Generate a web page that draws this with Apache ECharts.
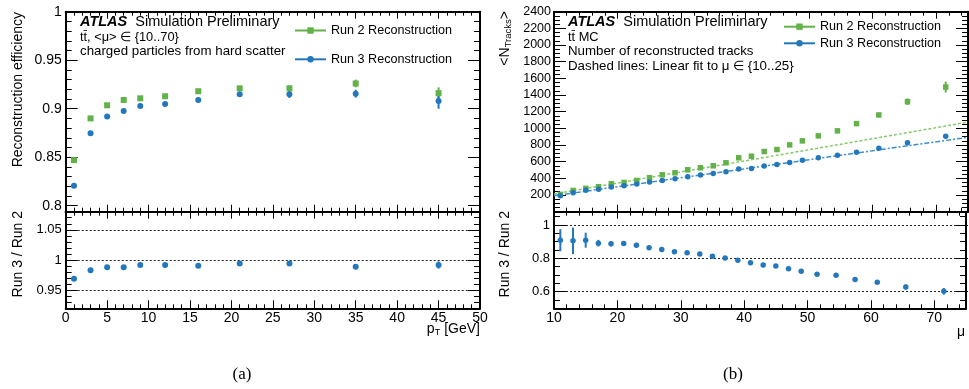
<!DOCTYPE html>
<html>
<head>
<meta charset="utf-8">
<script src="https://cdn.jsdelivr.net/npm/echarts@6/dist/echarts.min.js"></script>
<style>
    html, body { margin: 0; padding: 0; background: #fff; }
    #chart { width: 969px; height: 389px; }
</style>
</head>
<body>
<div id="chart"></div>
<script>
/**
 * Run 2 vs Run 3 track reconstruction (ATLAS simulation)
 */

// (a) efficiency vs pT
var ptBins = [1, 3, 5, 7, 9, 12, 16, 21, 27, 35, 45];
var effRun2 = [0.847, 0.890, 0.9035, 0.909, 0.9107, 0.9128, 0.918, 0.921, 0.921, 0.926, 0.916];
var effRun2Err = [0.001, 0.001, 0.001, 0.001, 0.001, 0.001, 0.0015, 0.002, 0.003, 0.004, 0.006];
var effRun3 = [0.8206, 0.8746, 0.892, 0.8976, 0.9028, 0.9048, 0.909, 0.915, 0.915, 0.9155, 0.908];
var effRun3Err = [0.001, 0.001, 0.001, 0.001, 0.001, 0.001, 0.0015, 0.002, 0.004, 0.004, 0.008];
var effRatio = [0.969, 0.983, 0.988, 0.988, 0.9917, 0.9917, 0.9906, 0.9944, 0.9944, 0.989, 0.9917];
var effRatioErr = [0.001, 0.001, 0.001, 0.001, 0.001, 0.001, 0.001, 0.0015, 0.003, 0.004, 0.006];

// (b) number of tracks vs mu
var muBins = [11, 13, 15, 17, 19, 21, 23, 25, 27, 29, 31, 33, 35, 37, 39, 41, 43, 45, 47, 49, 51.5, 54.5, 57.5, 61, 65.5, 71.5];
var nTrkRun2 = [208, 255, 280, 300, 336, 351, 375, 408, 443, 467, 503, 527, 551, 587, 647, 666, 722, 746, 802, 850, 910, 970, 1057, 1161, 1320, 1496];
var nTrkRun2Err = [4, 4, 4, 4, 4, 4, 4, 4, 4, 4, 5, 5, 5, 5, 6, 6, 7, 7, 8, 8, 9, 10, 12, 16, 40, 65];
var nTrkRun3 = [192, 228, 256, 268, 296, 312, 331, 355, 375, 395, 419, 439, 459, 479, 511, 519, 547, 567, 591, 618, 647, 678, 714, 762, 826, 905];
var nTrkRun3Err = [4, 4, 4, 4, 4, 4, 4, 4, 4, 4, 4, 4, 4, 4, 5, 5, 5, 5, 6, 6, 6, 7, 8, 10, 15, 22];
var nTrkRatio = [0.909, 0.905, 0.909, 0.891, 0.887, 0.889, 0.879, 0.863, 0.853, 0.840, 0.834, 0.826, 0.812, 0.802, 0.788, 0.774, 0.760, 0.754, 0.737, 0.723, 0.705, 0.699, 0.673, 0.657, 0.628, 0.602];
var nTrkRatioErr = [0.066, 0.08, 0.045, 0.02, 0.015, 0.01, 0.008, 0.006, 0.005, 0.005, 0.005, 0.005, 0.005, 0.005, 0.005, 0.005, 0.005, 0.005, 0.005, 0.005, 0.006, 0.007, 0.008, 0.01, 0.015, 0.02];

// linear fits to mu in {10..25}
var fitMu = [10, 75];
var fitRun2 = [212, 1075];
var fitRun3 = [192, 893];

var FONT = 'Liberation Sans, Arial, sans-serif';
var GREEN = '#62b149';
var BLUE = '#2377bc';

function makeAxis(o) {
    return {
        type: 'value', gridIndex: o.grid, position: o.pos, show: o.show !== false,
        min: o.min, max: o.max, interval: o.interval,
        axisLine: { show: o.line !== false, onZero: false, lineStyle: { color: '#000', width: 2 } },
        axisTick: { show: !!o.tick, inside: true, length: o.tick || 0, lineStyle: { color: '#000', width: 1 } },
        minorTick: { show: !!o.minor, splitNumber: o.split || 5, length: o.minor || 0, lineStyle: { color: '#000', width: 1 } },
        axisLabel: {
            show: !!o.font, margin: o.margin || 4, color: '#000', fontSize: o.font || 12,
            fontFamily: FONT, formatter: o.fmt, hideOverlap: false
        },
        splitLine: { show: !!o.dots, lineStyle: { color: '#222', type: [2, 2], width: 1 } }
    };
}

function markers(name, xs, ys, xi, yi, color, symbol, size) {
    return {
        name: name, type: 'line', xAxisIndex: xi, yAxisIndex: yi, z: 4,
        symbol: symbol, symbolSize: size, showSymbol: true,
        itemStyle: { color: color },
        lineStyle: { color: color, opacity: 0 },
        data: xs.map(function (x, i) { return [x, ys[i]]; })
    };
}

function errorBars(xs, ys, es, xi, yi, color) {
    return {
        type: 'custom', xAxisIndex: xi, yAxisIndex: yi, z: 3, silent: true,
        data: xs.map(function (x, i) { return [x, ys[i] - es[i], ys[i] + es[i]]; }),
        renderItem: function (params, api) {
            var lo = api.coord([api.value(0), api.value(1)]);
            var hi = api.coord([api.value(0), api.value(2)]);
            return {
                type: 'line',
                shape: { x1: lo[0], y1: lo[1], x2: hi[0], y2: hi[1] },
                style: { stroke: color, lineWidth: 2 }
            };
        }
    };
}

function fitLine(xs, ys, color, dash) {
    return {
        type: 'line', xAxisIndex: 6, yAxisIndex: 8, z: 2, symbol: 'none', silent: true,
        lineStyle: { color: color, width: 1.5, type: dash },
        data: xs.map(function (x, i) { return [x, ys[i]]; })
    };
}

function label(x, y, text, size, extra) {
    var el = {
        type: 'text', x: x, y: y, silent: true,
        style: {
            text: text, fill: '#000', fontSize: size, fontFamily: FONT,
            verticalAlign: 'middle', align: 'left',
            rich: {
                atl: { fontWeight: 'bold', fontStyle: 'italic', fontSize: size, fontFamily: FONT, padding: [0, 4, 0, 0] },
                sub: { fontSize: size * 0.68, fontFamily: FONT, padding: [size * 0.55, 0, 0, 0] }
            }
        }
    };
    if (extra) {
        for (var k in extra.style || {}) { el.style[k] = extra.style[k]; }
        if (extra.rotation) { el.rotation = extra.rotation; }
    }
    return el;
}

var every = function (step) {
    return function (v) {
        var r = v / step;
        return Math.abs(r - Math.round(r)) < 1e-6 ? String(+v.toFixed(4)) : '';
    };
};

var option = {
    animation: false,
    backgroundColor: '#fff',
    grid: [
        { left: 65.7, top: 11.7, width: 414.3, height: 200 },    // (a) main frame
        { left: 65.7, top: 11.7, width: 414.3, height: 194 },    // (a) ticks 0.8..1
        { left: 65.7, top: 211.7, width: 414.3, height: 96.6 },  // (a) ratio frame
        { left: 65.7, top: 229.8, width: 414.3, height: 60.4 },  // (a) ratio ticks 0.95..1.05
        { left: 554, top: 11.7, width: 414, height: 200 },       // (b) main
        { left: 554, top: 211.7, width: 414, height: 96.6 },     // (b) ratio frame
        { left: 554, top: 225.0, width: 414, height: 66.6 }      // (b) ratio ticks 0.6..1
    ],
    xAxis: [
        makeAxis({ grid: 0, pos: 'bottom', min: 0, max: 50, interval: 5, tick: 7, minor: 4 }),
        makeAxis({ grid: 0, pos: 'top', min: 0, max: 50, interval: 5, tick: 7, minor: 4 }),
        makeAxis({ grid: 1, show: false, min: 0, max: 50 }),
        makeAxis({ grid: 2, pos: 'bottom', min: 0, max: 50, interval: 5, tick: 8, minor: 4, font: 14, margin: 3 }),
        makeAxis({ grid: 2, pos: 'top', min: 0, max: 50, interval: 5, tick: 7, minor: 4 }),
        makeAxis({ grid: 3, show: false, min: 0, max: 50 }),
        makeAxis({ grid: 4, pos: 'bottom', min: 10, max: 75, interval: 10, tick: 7, minor: 4 }),
        makeAxis({ grid: 4, pos: 'top', min: 10, max: 75, interval: 10, tick: 7, minor: 4 }),
        makeAxis({ grid: 5, pos: 'bottom', min: 10, max: 75, interval: 10, tick: 8, minor: 4, font: 14, margin: 3, fmt: every(10) }),
        makeAxis({ grid: 5, pos: 'top', min: 10, max: 75, interval: 10, tick: 7, minor: 4 }),
        makeAxis({ grid: 6, show: false, min: 10, max: 75 })
    ],
    yAxis: [
        makeAxis({ grid: 0, pos: 'left', min: 0.7938, max: 1 }),
        makeAxis({ grid: 0, pos: 'right', min: 0.7938, max: 1 }),
        makeAxis({ grid: 1, pos: 'left', min: 0.8, max: 1, interval: 0.05, line: false, tick: 12, minor: 6, split: 5, font: 14 }),
        makeAxis({ grid: 1, pos: 'right', min: 0.8, max: 1, interval: 0.05, line: false, tick: 12, minor: 6, split: 5 }),
        makeAxis({ grid: 2, pos: 'left', min: 0.92, max: 1.08, interval: 0.01, tick: 6 }),
        makeAxis({ grid: 2, pos: 'right', min: 0.92, max: 1.08, interval: 0.01, tick: 6 }),
        makeAxis({ grid: 3, pos: 'left', min: 0.95, max: 1.05, interval: 0.05, line: false, tick: 12, font: 13, dots: true }),
        makeAxis({ grid: 3, pos: 'right', min: 0.95, max: 1.05, interval: 0.05, line: false, tick: 12 }),
        makeAxis({ grid: 4, pos: 'left', min: 0, max: 2400, interval: 200, tick: 12, minor: 6, split: 4, font: 12.5, margin: 3, fmt: function (v) { return v === 0 ? '' : v; } }),
        makeAxis({ grid: 4, pos: 'right', min: 0, max: 2400, interval: 200, tick: 12, minor: 6, split: 4 }),
        makeAxis({ grid: 5, pos: 'left', min: 0.5, max: 1.08, interval: 0.05, tick: 6 }),
        makeAxis({ grid: 5, pos: 'right', min: 0.5, max: 1.08, interval: 0.05, tick: 6 }),
        makeAxis({ grid: 6, pos: 'left', min: 0.6, max: 1, interval: 0.2, line: false, tick: 12, font: 13, dots: true }),
        makeAxis({ grid: 6, pos: 'right', min: 0.6, max: 1, interval: 0.2, line: false, tick: 12 })
    ],
    legend: [
        {
            left: 294, top: 23.5, orient: 'vertical', padding: 0, itemWidth: 31, itemHeight: 8, itemGap: 14.8,
            selectedMode: false, data: ['Run 2 Reconstruction', 'Run 3 Reconstruction'],
            lineStyle: { width: 2, opacity: 1 },
            textStyle: { fontSize: 12.6, fontFamily: FONT, color: '#000', lineHeight: 14 }
        },
        {
            left: 783, top: 19.7, orient: 'vertical', padding: 0, itemWidth: 31, itemHeight: 8, itemGap: 2.6,
            selectedMode: false, data: ['Run 2 Reconstruction', 'Run 3 Reconstruction'],
            lineStyle: { width: 2, opacity: 1 },
            textStyle: { fontSize: 12.6, fontFamily: FONT, color: '#000', lineHeight: 14 }
        }
    ],
    series: [
        // (a)
        errorBars(ptBins, effRun2, effRun2Err, 0, 0, GREEN),
        errorBars(ptBins, effRun3, effRun3Err, 0, 0, BLUE),
        markers('Run 2 Reconstruction', ptBins, effRun2, 0, 0, GREEN, 'rect', 6),
        markers('Run 3 Reconstruction', ptBins, effRun3, 0, 0, BLUE, 'circle', 6),
        errorBars(ptBins, effRatio, effRatioErr, 3, 4, BLUE),
        markers('ratio a', ptBins, effRatio, 3, 4, BLUE, 'circle', 6),
        // (b)
        fitLine(fitMu, fitRun2, '#86c86a', [3, 2]),
        fitLine(fitMu, fitRun3, '#3a8dd0', [5, 2, 2, 2]),
        errorBars(muBins, nTrkRun2, nTrkRun2Err, 6, 8, GREEN),
        errorBars(muBins, nTrkRun3, nTrkRun3Err, 6, 8, BLUE),
        markers('Run 2 Reconstruction', muBins, nTrkRun2, 6, 8, GREEN, 'rect', 5.5),
        markers('Run 3 Reconstruction', muBins, nTrkRun3, 6, 8, BLUE, 'circle', 5.5),
        errorBars(muBins, nTrkRatio, nTrkRatioErr, 8, 10, BLUE),
        markers('ratio b', muBins, nTrkRatio, 8, 10, BLUE, 'circle', 5.5)
    ],
    graphic: [
        label(80, 22.3, '{atl|ATLAS} Simulation Preliminary', 14.5),
        label(80, 37.5, 'tt\u0304, <\u03bc> \u2208 {10..70}', 12.8),
        label(80, 51.8, 'charged particles from hard scatter', 13.3),
        label(568, 22.3, '{atl|ATLAS} Simulation Preliminary', 14.5),
        label(568, 37.5, 'tt\u0304 MC', 12.8),
        label(568, 51.8, 'Number of reconstructed tracks', 13.3),
        label(568, 66.7, 'Dashed lines: Linear fit to \u03bc \u2208 {10..25}', 13.3),
        // axis titles
        label(18, 12, 'Reconstruction efficiency', 14, { rotation: Math.PI / 2, style: { align: 'right' } }),
        label(18, 211, 'Run 3 / Run 2', 14, { rotation: Math.PI / 2, style: { align: 'right' } }),
        label(505, 11, '<N{sub|Tracks}>', 14, { rotation: Math.PI / 2, style: { align: 'right' } }),
        label(505, 211, 'Run 3 / Run 2', 14, { rotation: Math.PI / 2, style: { align: 'right' } }),
        label(480, 329, 'p{sub|T} [GeV]', 14, { style: { align: 'right' } }),
        label(965, 332, '\u03bc', 14, { style: { align: 'right' } }),
        // panel captions
        label(242, 375, '(a)', 17, { style: { align: 'center', fontFamily: 'Liberation Serif, serif' } }),
        label(733, 375, '(b)', 17, { style: { align: 'center', fontFamily: 'Liberation Serif, serif' } })
    ]
};

var myChart = echarts.init(document.getElementById('chart'));
myChart.setOption(option);
</script>
</body>
</html>
